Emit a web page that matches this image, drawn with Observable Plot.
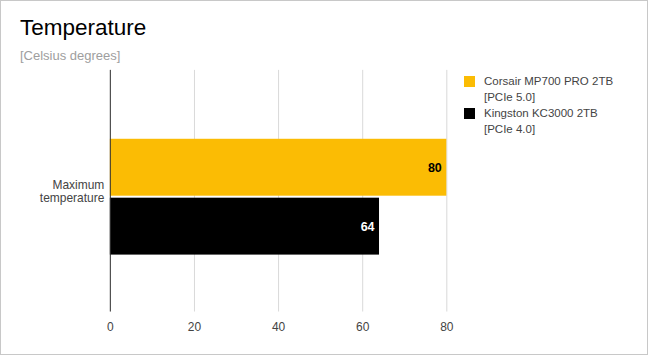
<!DOCTYPE html>
<html>
<head>
<meta charset="utf-8">
<script src="https://cdn.jsdelivr.net/npm/d3@7"></script>
<script src="https://cdn.jsdelivr.net/npm/@observablehq/plot@0.6"></script>
<style>
  html, body { margin: 0; padding: 0; background: #fff; }
  #wrap { position: relative; width: 646px; height: 353px; border: 1px solid #c8c8c8; overflow: hidden; font-family: "Liberation Sans", Arial, sans-serif; }
  #title { position: absolute; left: 19px; top: 14px; font-size: 22.5px; color: #000; }
  #subtitle { position: absolute; left: 19px; top: 47px; font-size: 13px; color: #9e9e9e; }
  #chart { position: absolute; left: -1px; top: -1px; }
  #legend { position: absolute; left: 463px; top: 72px; font-size: 11.5px; color: #444; }
  .item { display: flex; align-items: flex-start; margin-bottom: 0px; line-height: 16px; height: 32px; }
  .sw { width: 11px; height: 11px; margin-right: 9px; margin-top: 3px; flex: none; }
</style>
</head>
<body>
<div id="wrap">
  <div id="title">Temperature</div>
  <div id="subtitle">[Celsius degrees]</div>
  <div id="chart"></div>
  <div id="legend"></div>
</div>
<script>
const categories = ["Maximum temperature"];
const seriesNames = ["Corsair MP700 PRO 2TB [PCIe 5.0]", "Kingston KC3000 2TB [PCIe 4.0]"];
const legendLines = [["Corsair MP700 PRO 2TB", "[PCIe 5.0]"], ["Kingston KC3000 2TB", "[PCIe 4.0]"]];
const seriesColors = ["#fbbc04", "#000000"];
const labelColors = ["#000000", "#ffffff"];
const values = [80, 64];
const xTicks = [0, 20, 40, 60, 80];

const data = seriesNames.map((s, i) => ({category: categories[0], series: s, value: values[i], color: seriesColors[i], labelColor: labelColors[i]}));

const chart = Plot.plot({
  width: 648,
  height: 355,
  marginLeft: 110,
  marginRight: 201,
  marginTop: 70,
  marginBottom: 43,
  style: {fontFamily: "'Liberation Sans', Arial, sans-serif", fontSize: "12px", background: "transparent", overflow: "visible"},
  x: {domain: [0, 80], label: null},
  y: {domain: seriesNames, paddingInner: 0.04, paddingOuter: 1.07, align: 0.55, axis: null},
  fy: {domain: categories, padding: 0, label: null},
  marks: [
    Plot.gridX(xTicks, {stroke: "#d9d9d9", strokeOpacity: 1}),
    Plot.barX(data, {x: "value", y: "series", fy: "category", fill: "color"}),
    Plot.ruleX([0], {stroke: "#333", strokeWidth: 1}),
    Plot.text(data, {x: "value", y: "series", fy: "category", text: d => String(d.value), textAnchor: "end", dx: -5, fill: "labelColor", fontWeight: "bold", fontSize: 12.5}),
    Plot.axisX({ticks: xTicks, tickSize: 0, tickPadding: 10, label: null, fill: "#444", fontSize: 12}),
    Plot.axisFy({anchor: "left", label: null, tickSize: 0, tickPadding: 6, lineHeight: 1.1, tickFormat: d => d.replace(" ", "\n"), fill: "#444", fontSize: 12})
  ]
});
document.getElementById("chart").appendChild(chart);

const legend = document.getElementById("legend");
legendLines.forEach((lines, i) => {
  const item = document.createElement("div");
  item.className = "item";
  const sw = document.createElement("div");
  sw.className = "sw";
  sw.style.background = seriesColors[i];
  const txt = document.createElement("div");
  txt.innerHTML = lines.join("<br>");
  item.appendChild(sw);
  item.appendChild(txt);
  legend.appendChild(item);
});
</script>
</body>
</html>
